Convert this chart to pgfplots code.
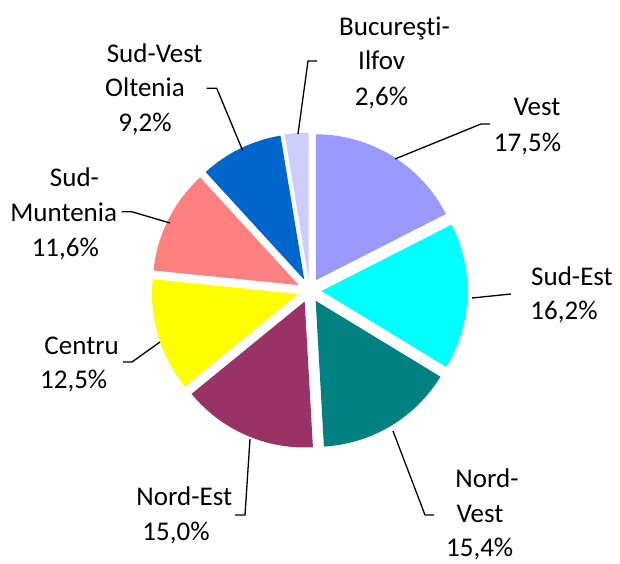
\documentclass[border=0pt]{standalone}
\usepackage{pgfplots}
\pgfplotsset{compat=1.18}
\usepackage{pgfplotstable}
\usepackage{fontspec}
\setmainfont[Ligatures=NoCommon]{Carlito}
\definecolor{cVest}{HTML}{9999FF}
\definecolor{cSudEst}{HTML}{00FFFF}
\definecolor{cNordVest}{HTML}{008080}
\definecolor{cNordEst}{HTML}{993366}
\definecolor{cCentru}{HTML}{FFFF00}
\definecolor{cSudMuntenia}{HTML}{FF8080}
\definecolor{cSudVest}{HTML}{0066CC}
\definecolor{cBucuresti}{HTML}{CCCCFF}
\pgfplotstableread{
region value color
Vest 17.5 cVest
SudEst 16.2 cSudEst
NordVest 15.4 cNordVest
NordEst 15.0 cNordEst
Centru 12.5 cCentru
SudMuntenia 11.6 cSudMuntenia
SudVest 9.2 cSudVest
Bucuresti 2.6 cBucuresti
}\piedata
\begin{document}
\begin{tikzpicture}[every node/.append style={font=\fontsize{27}{35}\selectfont, inner sep=0pt, anchor=base}]
\useasboundingbox (0,0) rectangle (620pt,563pt);
\begin{axis}[
  width=620pt, height=563pt, scale only axis,
  xmin=0, xmax=620, ymin=0, ymax=563,
  hide axis, clip=false,
]
\def\pcx{309.5}
\def\pcy{272.5}
\def\prad{146}
\def\pexp{12}
\def\pcum{0}
\pgfplotsforeachungrouped \i in {0,...,7}{%
  \pgfplotstablegetelem{\i}{value}\of\piedata
  \let\psval\pgfplotsretval
  \pgfplotstablegetelem{\i}{color}\of\piedata
  \let\pscol\pgfplotsretval
  \pgfmathsetmacro{\psa}{90-3.6*\pcum}
  \pgfmathsetmacro{\pea}{90-3.6*(\pcum+\psval)}
  \pgfmathsetmacro{\pma}{(\psa+\pea)/2}
  \pgfmathsetmacro{\pex}{\pcx+\pexp*cos(\pma)}
  \pgfmathsetmacro{\pey}{\pcy+\pexp*sin(\pma)}
  \edef\pstemp{\noexpand\fill[\pscol] (axis cs:\pex,\pey) -- ++(\psa:\prad pt) arc[start angle=\psa, end angle=\pea, radius=\prad pt] -- cycle;}%
  \pstemp
  \pgfmathsetmacro{\pcum}{\pcum+\psval}%
}
% leader lines
\draw[line width=1.3pt] (axis cs:298,429) -- (axis cs:308,502) -- (axis cs:317,502);
\draw[line width=1.3pt] (axis cs:395,404) -- (axis cs:481,439) -- (axis cs:490,439);
\draw[line width=1.3pt] (axis cs:472,265) -- (axis cs:511,269);
\draw[line width=1.3pt] (axis cs:393,132) -- (axis cs:425,48) -- (axis cs:434,48);
\draw[line width=1.3pt] (axis cs:250,124) -- (axis cs:245,48) -- (axis cs:235,48);
\draw[line width=1.3pt] (axis cs:160,221) -- (axis cs:132,201) -- (axis cs:123,201);
\draw[line width=1.3pt] (axis cs:170,340) -- (axis cs:131.7,351.3) -- (axis cs:121.7,351.3);
\draw[line width=1.3pt] (axis cs:242.7,412.3) -- (axis cs:216.7,474.7) -- (axis cs:206.7,474.7);
% labels
\node at (axis cs:394.5,527.3) {Bucureşt\kern0pt i-};
\node at (axis cs:381.7,493) {Ilfov};
\node at (axis cs:381.5,457.5) {2,6\%};
\node at (axis cs:537,447.3) {Vest};
\node at (axis cs:527.5,411.3) {17,5\%};
\node at (axis cs:572,278) {Sud-Est};
\node at (axis cs:564,243.7) {16,2\%};
\node at (axis cs:487,75.7) {Nord-};
\node at (axis cs:480,41) {Vest};
\node at (axis cs:479.7,7) {15,4\%};
\node at (axis cs:184.3,58) {Nord-Est};
\node at (axis cs:176,23) {15,0\%};
\node at (axis cs:74.5,376.3) {Sud-};
\node at (axis cs:63.7,341.3) {Muntenia};
\node at (axis cs:65.3,306.3) {11,6\%};
\node at (axis cs:81.7,209) {Centru};
\node at (axis cs:73.7,174.7) {12,5\%};
\node at (axis cs:154.7,500.7) {Sud-Vest};
\node at (axis cs:145,466.3) {Oltenia};
\node at (axis cs:145,431.3) {9,2\%};
\end{axis}
\end{tikzpicture}
\end{document}
